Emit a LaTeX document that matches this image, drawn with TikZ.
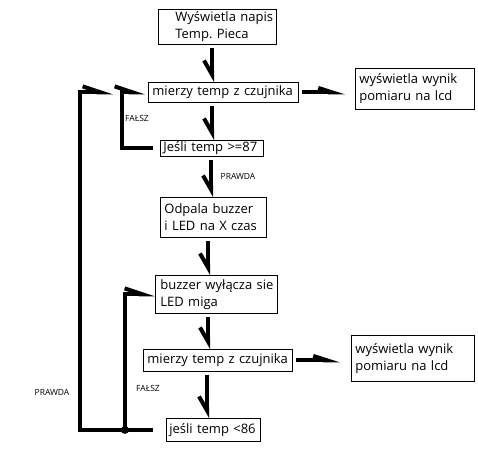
\documentclass[tikz,border=0pt]{standalone}
\usepackage{fontspec}
\setmainfont{Open Sans}
\usetikzlibrary{arrows.meta}
\frenchspacing
\begin{document}
\begin{tikzpicture}[x=1pt,y=-1pt,
  box/.style={draw, line width=0.8pt, rectangle, anchor=north west, align=left,
    font=\fontsize{13}{17}\selectfont, inner ysep=0pt},
  flow/.style={line width=4pt},
  dn/.style={flow, shorten <=3pt, -{Straight Barb[harpoon,swap,length=14pt,width=16pt]}},
  rt/.style={flow, -{Straight Barb[harpoon,length=18pt,width=12pt]}},
  lcd/.style={flow, -{Straight Barb[harpoon,length=14pt,width=9pt]}},
  lbl/.style={font=\fontsize{8.5}{10}\selectfont, inner sep=0pt},
  dot/.style={circle, fill, inner sep=0pt, minimum size=8pt}
]
\useasboundingbox (0,0) rectangle (478,449);

% boxes
\node[box, minimum width=118pt, minimum height=35pt, inner xsep=17pt, text width=84pt] (b1) at (158,9) {\mbox{Wyświetla napis}\\\mbox{Temp. Pieca}};
\node[box, minimum width=150pt, minimum height=20pt, inner xsep=4pt, text width=142pt] (b2) at (148,82) {\mbox{mierzy temp z czujnika}};
\node[box, minimum width=103pt, minimum height=16pt, inner xsep=3pt, text width=97pt] (b3) at (160,140) {\mbox{Jeśli temp >=87}};
\node[box, minimum width=119pt, minimum height=41pt, inner xsep=4pt, text width=111pt] (b4) at (355,68) {\mbox{wyświetla wynik}\\\mbox{pomiaru na lcd}};
\node[box, minimum width=106pt, minimum height=40pt, inner xsep=4pt, text width=98pt] (b5) at (160,197) {\mbox{Odpala buzzer}\\\mbox{i LED na X czas}};
\node[box, minimum width=122pt, minimum height=38pt, inner xsep=5pt, text width=112pt] (b6) at (155,275) {\mbox{buzzer wyłącza sie}\\\mbox{LED miga}};
\node[box, minimum width=149pt, minimum height=22pt, inner xsep=4pt, text width=141pt] (b7) at (143,349) {\mbox{mierzy temp z czujnika}};
\node[box, minimum width=123pt, minimum height=46pt, inner xsep=4pt, text width=115pt] (b8) at (351,335) {\mbox{wyświetla wynik}\\\mbox{pomiaru na lcd}};
\node[box, minimum width=94pt, minimum height=23pt, inner xsep=3pt, text width=88pt] (b9) at (166,418) {\mbox{jeśli temp <86}};

% labels
\node[lbl] (lf1) at (137,118) {FAŁSZ};
\node[lbl] (lp1) at (238,176) {PRAWDA};
\node[lbl] (lf2) at (148,388) {FAŁSZ};
\node[lbl] (lp2) at (52,392) {PRAWDA};

% helper columns
\coordinate (c212) at (212,0);
\coordinate (c211) at (211,0);
\coordinate (c208) at (208,0);
\coordinate (c207) at (207,0);
\coordinate (f1) at (122,0);
\coordinate (o1) at (80,0);
\coordinate (t1) at (113,0);
\coordinate (jx) at (125,0);
\coordinate (l4) at ([xshift=-10pt]b4.west);
\coordinate (l8) at ([xshift=-11pt]b8.west);

% main flow
\draw[dn] (b1.south -| c212) -- (b2.north -| c212);
\draw[dn] (b2.south -| c212) -- (b3.north -| c212);
\draw[dn] (b3.south -| c211) -- (b5.north -| c211);
\draw[dn] (b5.south -| c208) -- (b6.north -| c208);
\draw[dn] (b6.south -| c208) -- (b7.north -| c208);
\draw[dn] (b7.south -| c207) -- (b9.north -| c207);

% to lcd
\draw[lcd] ([xshift=3pt]b2.east) -- (l4 |- b2.east);
\draw[lcd] ([xshift=3pt]b7.east) -- (l8 |- b7.east);

% FALSZ loop 1
\draw[rt] ([xshift=-7pt]b3.west) -- (b3.west -| f1) -- (b2.west -| f1) -- ([xshift=-3pt]b2.west);

% junction and loops
\node[dot] (j) at (jx |- b9.west) {};
\draw[rt] ([xshift=-13pt]b9.west) -- (b9.west -| o1) -- (o1 |- b2.west) -- (t1 |- b2.west);
\draw[rt] (j.center) -- (j.center |- b6.west) -- (b6.west);
\end{tikzpicture}
\end{document}
